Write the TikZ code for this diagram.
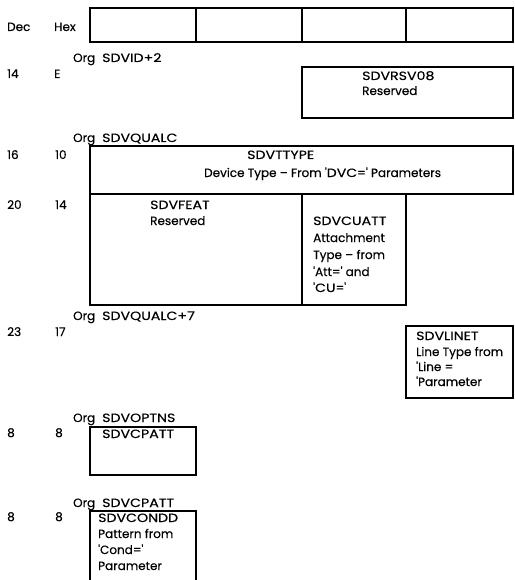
\documentclass[tikz,border=0pt]{standalone}
\usepackage{fontspec}
\setmainfont{Poppins}[FakeBold=0.35,Ligatures=TeXOff]
\newcommand{\capw}[1]{{\addfontfeature{FakeStretch=1.18}#1}}
\begin{document}
\begin{tikzpicture}[x=1pt,y=-1pt,
  lbl/.style={anchor=base west,inner sep=0pt,font=\fontsize{12}{14}\selectfont},
  frame/.style={line width=1.1pt}]
\useasboundingbox (0,0) rectangle (514,580);
% header row
\node[lbl] (dec) at (7,31) {Dec};
\node[lbl] (hex) at (54,31) {Hex};
\draw[frame] (90,8) rectangle (513,42);
\draw[frame] (196,8) -- (196,42) (302,8) -- (302,42) (406,8) -- (406,42);
% SDVID+2
\node[lbl] (org1) at (73,62) {Org\hspace{7pt}\capw{SDVID+2}};
\node[lbl] (d14) at (7,78) {14};
\node[lbl] (hE) at (54,78) {E};
\draw[frame] (302,67) rectangle (513,118);
\node[lbl] (rsv1) at (362,80) {\capw{SDVRSV08}};
\node[lbl] (rsv2) at (362,95) {Reserved};
% SDVQUALC
\node[lbl] (org2) at (73,142) {Org\hspace{7pt}\capw{SDVQUALC}};
\node[lbl] (d16) at (7,159) {16};
\node[lbl] (h10) at (55,159) {10};
\draw[frame] (90,146) rectangle (513,194);
\node[lbl] (tt1) at (247,159) {\capw{SDVTTYPE}};
\node[lbl] (tt2) at (204,177) {Device Type – From '\capw{DVC}=' Parameters};
\node[lbl] (d20) at (7,209) {20};
\node[lbl] (h14) at (55,209) {14};
\draw[frame] (90,194) rectangle (406,305);
\draw[frame] (302,194) -- (302,305);
\node[lbl] (feat1) at (150,209) {\capw{SDVFEAT}};
\node[lbl] (feat2) at (150,225) {Reserved};
\node[lbl] (cu1) at (313,225) {\capw{SDVCUATT}};
\node[lbl] (cu2) at (313,242) {Attachment};
\node[lbl] (cu3) at (313,259) {Type – from};
\node[lbl] (cu4) at (313,276) {'Att=' and};
\node[lbl] (cu5) at (313,292) {'\capw{CU}='};
% SDVQUALC+7
\node[lbl] (org3) at (73,320) {Org\hspace{7pt}\capw{SDVQUALC+7}};
\node[lbl] (d23) at (7,336) {23};
\node[lbl] (h17) at (55,336) {17};
\draw[frame] (406,326) rectangle (513,398);
\node[lbl] (li1) at (416,340) {\capw{SDVLINET}};
\node[lbl] (li2) at (416,356) {Line Type from};
\node[lbl] (li3) at (416,371) {'Line =};
\node[lbl] (li4) at (416,386) {'Parameter};
% SDVOPTNS
\node[lbl] (org4) at (73,422) {Org\hspace{7pt}\capw{SDVOPTNS}};
\node[lbl] (d8a) at (7,437) {8};
\node[lbl] (h8a) at (55,437) {8};
\draw[frame] (90,427) rectangle (196,475);
\node[lbl] (cpatt) at (102,438) {\capw{SDVCPATT}};
% SDVCPATT
\node[lbl] (org5) at (73,507) {Org\hspace{7pt}\capw{SDVCPATT}};
\node[lbl] (d8b) at (7,521) {8};
\node[lbl] (h8b) at (55,521) {8};
\draw[frame] (90,580) -- (90,511) -- (196,511) -- (196,580);
\node[lbl] (co1) at (98,522) {\capw{SDVCONDD}};
\node[lbl] (co2) at (98,538) {Pattern from};
\node[lbl] (co3) at (98,554) {'Cond='};
\node[lbl] (co4) at (98,570) {Parameter};
\end{tikzpicture}
\end{document}
